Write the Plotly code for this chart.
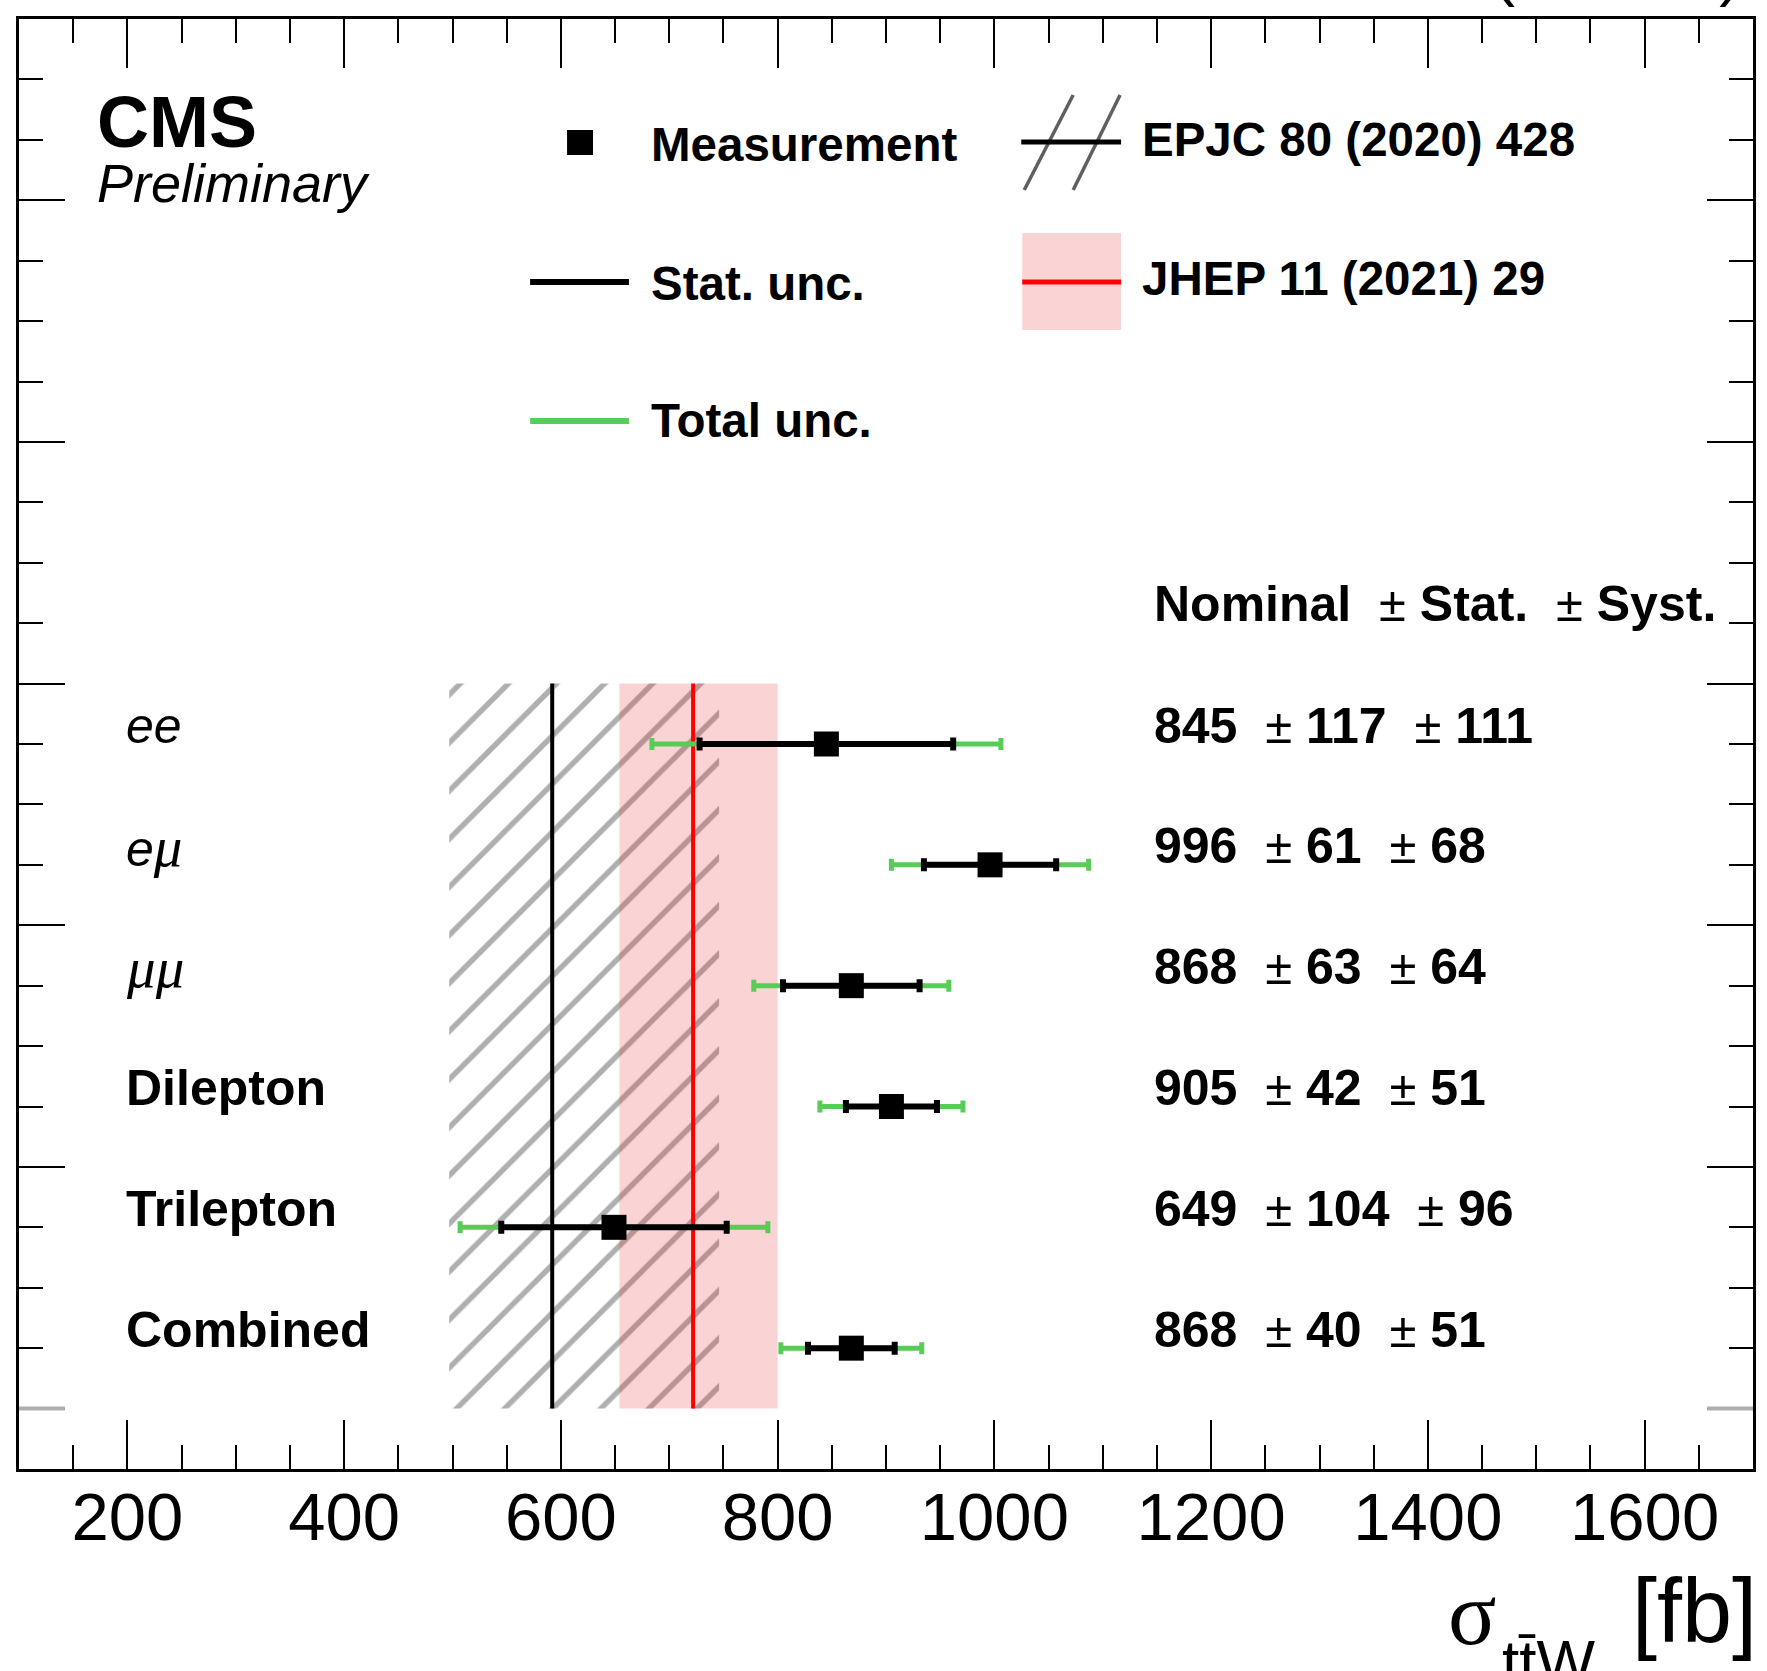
import plotly.graph_objects as go

# ---------------- data ----------------
categories = ["ee", "eμ", "μμ", "Dilepton", "Trilepton", "Combined"]
nominal = [845, 996, 868, 905, 649, 868]
stat_unc = [117, 61, 63, 42, 104, 40]
syst_unc = [111, 68, 64, 51, 96, 51]
total_unc = [161, 91, 90, 66, 142, 65]

# theory predictions: central, lower edge, upper edge (fb)
epjc_central = 592
epjc_band = [497, 746]
jhep_central = 722
jhep_band = [654, 800]

x_tick_labels = [200, 400, 600, 800, 1000, 1200, 1400, 1600]

# ---------------- geometry helpers ----------------
W, H = 1767, 1671
PL, PT, PW, PH = 19, 19, 1737, 1450


def fx(p):
    return (p - PL) / PW


def fy(p):
    return 1 - (p - PT) / PH


n = len(categories)
ypos = [n - 0.5 - i for i in range(n)]

FONT = "Liberation Sans"
SERIF = "Liberation Serif"
GREEN = "rgb(87,204,87)"
HATCH = "rgb(95,95,95)"
PINK = "rgba(232,40,45,0.2)"

fig = go.Figure()

# hatched EPJC band
fig.add_trace(go.Scatter(
    x=[epjc_band[0], epjc_band[1], epjc_band[1], epjc_band[0], epjc_band[0]],
    y=[0, 0, n, n, 0],
    mode="lines", line=dict(width=0), fill="toself",
    fillcolor="rgba(0,0,0,0)",
    fillpattern=dict(shape="/", fgcolor=HATCH, bgcolor="rgba(0,0,0,0)",
                     size=34, solidity=0.16),
    hoverinfo="skip"))
# pink JHEP band
fig.add_trace(go.Scatter(
    x=[jhep_band[0], jhep_band[1], jhep_band[1], jhep_band[0], jhep_band[0]],
    y=[0, 0, n, n, 0],
    mode="lines", line=dict(width=0), fill="toself", fillcolor=PINK,
    hoverinfo="skip"))
# central lines
fig.add_trace(go.Scatter(x=[epjc_central, epjc_central], y=[0, n], mode="lines",
                         line=dict(color="black", width=4), hoverinfo="skip"))
fig.add_trace(go.Scatter(x=[jhep_central, jhep_central], y=[0, n], mode="lines",
                         line=dict(color="red", width=4), hoverinfo="skip"))
# total uncertainty
fig.add_trace(go.Scatter(
    x=nominal, y=ypos, mode="markers",
    marker=dict(size=2, color="rgba(0,0,0,0)"),
    error_x=dict(type="data", array=total_unc, color=GREEN, thickness=5, width=6)))
# stat uncertainty + measurement
fig.add_trace(go.Scatter(
    x=nominal, y=ypos, mode="markers",
    marker=dict(symbol="square", size=25, color="black", line=dict(width=0)),
    error_x=dict(type="data", array=stat_unc, color="black", thickness=6, width=6.5)))

shapes = []
# y=0 grey ticks
for xa, xb in [(0, 46 / PW), (1 - 46 / PW, 1)]:
    shapes.append(dict(type="line", xref="paper", yref="y", x0=xa, x1=xb, y0=0, y1=0,
                       line=dict(color="rgb(175,175,175)", width=4)))

# legend glyphs
shapes.append(dict(type="rect", xref="paper", yref="paper",
                   x0=fx(568), x1=fx(594), y0=fy(155), y1=fy(130),
                   fillcolor="black", line=dict(width=0)))
shapes.append(dict(type="line", xref="paper", yref="paper",
                   x0=fx(531), x1=fx(630), y0=fy(282), y1=fy(282),
                   line=dict(color="black", width=6)))
shapes.append(dict(type="line", xref="paper", yref="paper",
                   x0=fx(531), x1=fx(630), y0=fy(421), y1=fy(421),
                   line=dict(color=GREEN, width=6)))
for xa, xb in [(1026, 1075), (1075, 1122)]:
    shapes.append(dict(type="line", xref="paper", yref="paper",
                       x0=fx(xa), x1=fx(xb), y0=fy(190), y1=fy(95),
                       line=dict(color=HATCH, width=3.5)))
shapes.append(dict(type="line", xref="paper", yref="paper",
                   x0=fx(1023), x1=fx(1123), y0=fy(142), y1=fy(142),
                   line=dict(color="black", width=5)))
shapes.append(dict(type="rect", xref="paper", yref="paper",
                   x0=fx(1024), x1=fx(1123), y0=fy(330), y1=fy(233),
                   fillcolor=PINK, line=dict(width=0)))
shapes.append(dict(type="line", xref="paper", yref="paper",
                   x0=fx(1024), x1=fx(1123), y0=fy(282), y1=fy(282),
                   line=dict(color="red", width=5)))

ann = []


def txt(text, x, y, size, yref="paper", family=FONT, xanchor="left", yanchor="middle"):
    ann.append(dict(text=text, x=x, y=y, xref="paper", yref=yref, showarrow=False,
                    xanchor=xanchor, yanchor=yanchor, align="left",
                    font=dict(family=family, size=size, color="black")))


# CMS label
txt("<b>CMS</b>", fx(95), fy(122), 72)
txt("<i>Preliminary</i>", fx(95), fy(183), 54)

# legend text
txt("<b>Measurement</b>", fx(650), fy(144), 47.5)
txt("<b>Stat. unc.</b>", fx(650), fy(283), 47.5)
txt("<b>Total unc.</b>", fx(650), fy(420), 47.5)
txt("<b>EPJC 80 (2020) 428</b>", fx(1142), fy(140), 47.5)
txt("<b>JHEP 11 (2021) 29</b>", fx(1142), fy(278), 47.5)

# category labels
mu = "<span style='font-family:Liberation Serif;font-size:57px'><i>μ</i></span>"
label_html = {
    "ee": "<i>ee</i>",
    "eμ": "<i>e</i>" + mu,
    "μμ": mu + mu,
}
dy = 18.5 / 121
for c, y in zip(categories, ypos):
    t = label_html.get(c, "<b>" + c + "</b>")
    txt(t, fx(124), y + dy, 50, yref="y")

# values table
sp = "\u00a0"
pm = "<span style='font-size:49px;font-weight:normal'>±</span>"


def row(a, b, c):
    return f"<b>{a}{sp}{sp}</b>{pm}<b>{sp}{b}{sp}{sp}</b>{pm}<b>{sp}{c}</b>"


txt(row("Nominal", "Stat.", "Syst."), fx(1154), fy(604), 50)
for a, b, c, y in zip(nominal, stat_unc, syst_unc, ypos):
    txt(row(a, b, c), fx(1154), y + dy, 50, yref="y")

# x-axis title
txt("σ", fx(1448), fy(1613), 90, family=SERIF)
txt("tt\u0304W", fx(1503), fy(1661), 62)
txt("[fb]", fx(1633), fy(1611), 90)

# lumi text (mostly cut off above the page)
ann.append(dict(text="138 fb<sup>-1</sup> (13 TeV)", x=fx(1746), y=fy(8.5),
                xref="paper", yref="paper", showarrow=False,
                xanchor="right", yanchor="bottom",
                font=dict(family=FONT, size=66, color="black")))

axis_common = dict(showline=True, linewidth=3, linecolor="black", mirror="ticks",
                   showgrid=False, zeroline=False, ticks="inside",
                   tickcolor="black", tickwidth=2)

fig.update_layout(
    width=W, height=H,
    margin=dict(l=PL, r=W - PL - PW, t=PT, b=H - PT - PH),
    paper_bgcolor="white", plot_bgcolor="white",
    showlegend=False,
    xaxis=dict(range=[100, 1700], tickmode="array", tickvals=x_tick_labels,
               ticktext=[str(v) for v in x_tick_labels], ticklen=49,
               tickfont=dict(family=FONT, size=67, color="black"),
               ticklabelstandoff=-12,
               minor=dict(tickmode="linear", tick0=0, dtick=50, ticklen=24,
                          tickwidth=2, tickcolor="black", ticks="inside"),
               **axis_common),
    yaxis=dict(range=[-0.5, 11.5], tickmode="linear", tick0=0, dtick=2, ticklen=46,
               showticklabels=False,
               minor=dict(tickmode="linear", tick0=0, dtick=0.5, ticklen=24,
                          tickwidth=2, tickcolor="black", ticks="inside"),
               **axis_common),
    shapes=shapes,
    annotations=ann,
)

fig.write_html("out.html",
               config={"displayModeBar": False},
               post_script="document.body.style.margin='0';document.body.style.padding='0';")
